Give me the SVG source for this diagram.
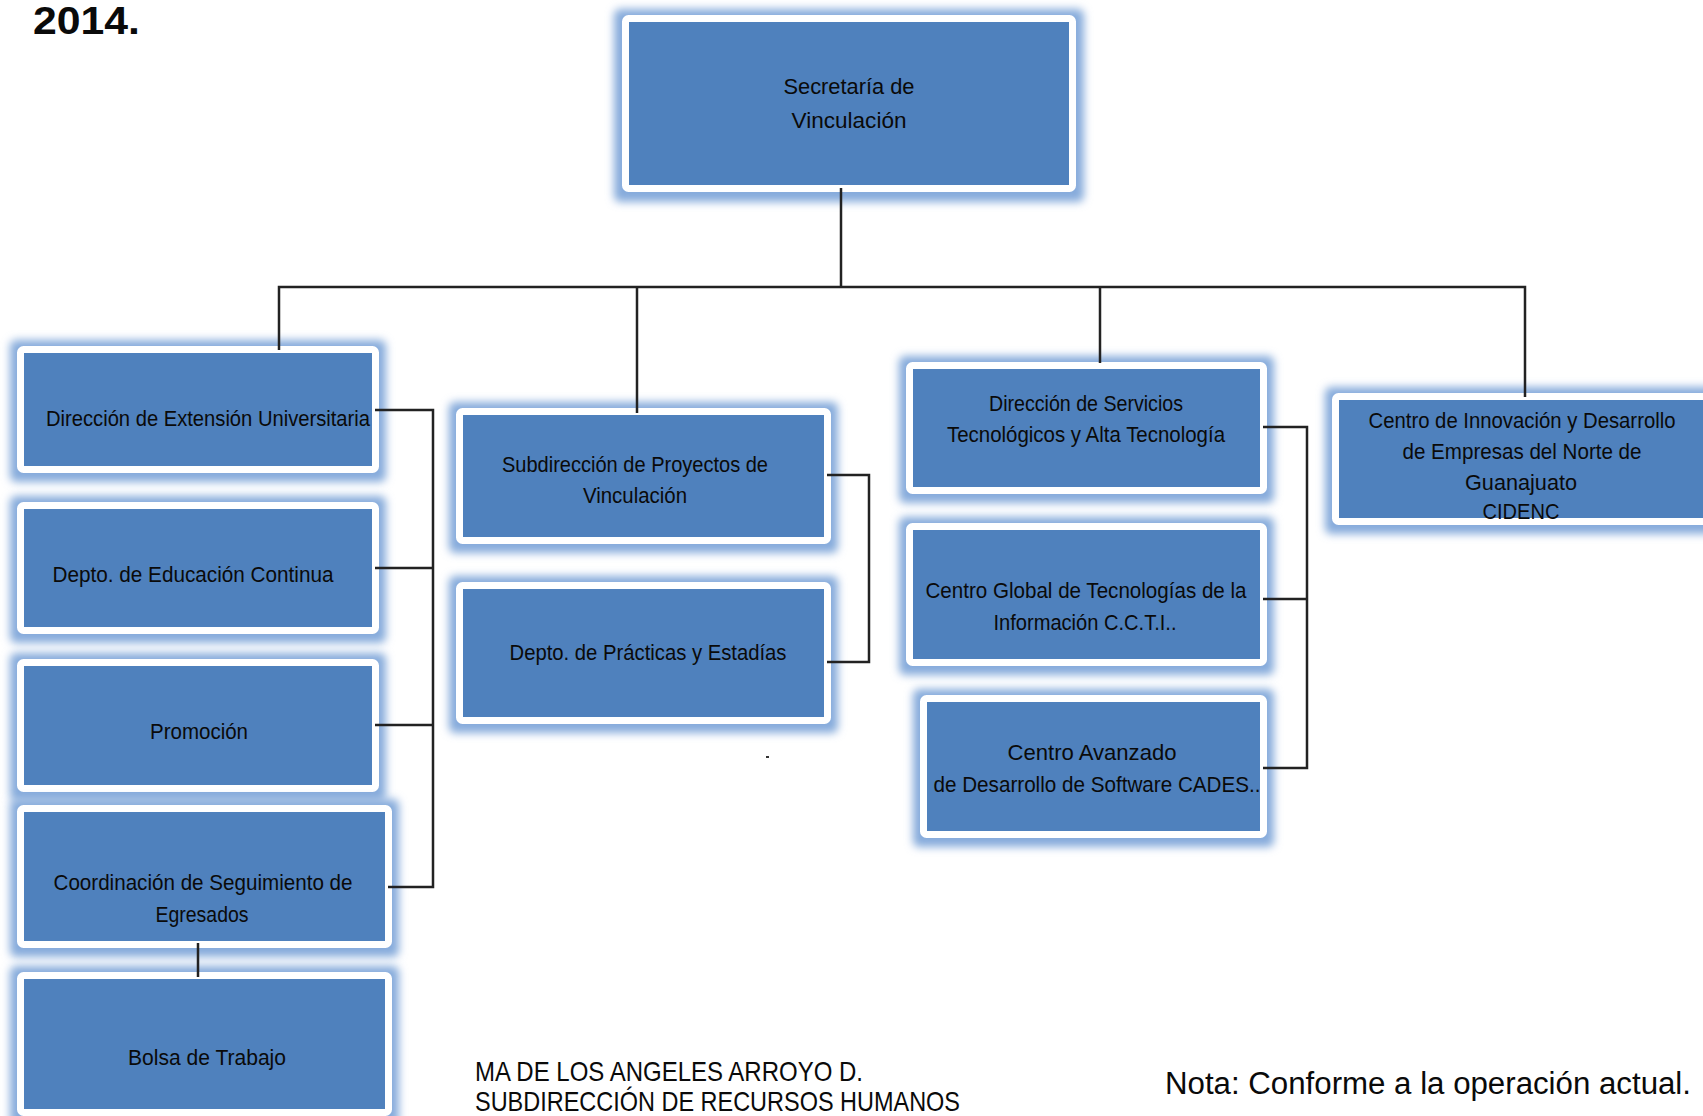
<svg xmlns="http://www.w3.org/2000/svg" width="1703" height="1116" viewBox="0 0 1703 1116">
<style>
  .frame { fill: #4F81BD; stroke: #FFFFFF; stroke-width: 7; }
  .glow { fill: #86ABDB; filter: url(#blur); }
  .t { font-family: "Liberation Sans", Arial, sans-serif; font-size: 22px; fill: #0A0A0A; text-anchor: middle; }
  .tb { font-family: "Liberation Sans", Arial, sans-serif; fill: #0A0A0A; }
  .c { fill: none; stroke: #222222; stroke-width: 2.5; }
</style>
<defs>
  <filter id="blur" x="-20%" y="-30%" width="140%" height="160%">
    <feGaussianBlur stdDeviation="4"/>
  </filter>
</defs>
<rect width="1703" height="1116" fill="#FFFFFF"/>
<text class="tb" x="33" y="34" font-size="38" font-weight="900" textLength="107" lengthAdjust="spacingAndGlyphs">2014.</text>

<g id="n-secretaria">
  <rect class="glow" x="614" y="9" width="470" height="193" rx="6"/>
  <rect class="frame" x="625.5" y="18.5" width="447" height="170" rx="3"/>
  <text class="t" font-size="25" x="849" y="94" textLength="131" lengthAdjust="spacingAndGlyphs">Secretaría de</text>
  <text class="t" font-size="25" x="849" y="128" textLength="115" lengthAdjust="spacingAndGlyphs">Vinculación</text>
</g>
<g id="n-extension">
  <rect class="glow" x="10" y="340" width="376" height="142" rx="6"/>
  <rect class="frame" x="20.5" y="349.5" width="355" height="120" rx="3"/>
  <text class="t" x="208" y="426" textLength="324" lengthAdjust="spacingAndGlyphs">Dirección de Extensión Universitaria</text>
</g>
<g id="n-educacion">
  <rect class="glow" x="10" y="496" width="376" height="147" rx="6"/>
  <rect class="frame" x="20.5" y="505.5" width="355" height="125" rx="3"/>
  <text class="t" x="193" y="582" textLength="281" lengthAdjust="spacingAndGlyphs">Depto. de Educación Continua</text>
</g>
<g id="n-promocion">
  <rect class="glow" x="10" y="653" width="376" height="148" rx="6"/>
  <rect class="frame" x="20.5" y="662.5" width="355" height="126" rx="3"/>
  <text class="t" x="199" y="739" textLength="98" lengthAdjust="spacingAndGlyphs">Promoción</text>
</g>
<g id="n-seguimiento">
  <rect class="glow" x="10" y="799" width="389" height="158" rx="6"/>
  <rect class="frame" x="20.5" y="808.5" width="368" height="136" rx="3"/>
  <text class="t" x="203" y="890" textLength="299" lengthAdjust="spacingAndGlyphs">Coordinación de Seguimiento de</text>
  <text class="t" x="202" y="922" textLength="93" lengthAdjust="spacingAndGlyphs">Egresados</text>
</g>
<g id="n-bolsa">
  <rect class="glow" x="10" y="966" width="389" height="160" rx="6"/>
  <rect class="frame" x="20.5" y="975.5" width="368" height="137" rx="3"/>
  <text class="t" x="207" y="1065" textLength="158" lengthAdjust="spacingAndGlyphs">Bolsa de Trabajo</text>
</g>
<g id="n-subdireccion">
  <rect class="glow" x="449" y="402" width="389" height="151" rx="6"/>
  <rect class="frame" x="459.5" y="411.5" width="368" height="129" rx="3"/>
  <text class="t" x="635" y="472" textLength="266" lengthAdjust="spacingAndGlyphs">Subdirección de Proyectos de</text>
  <text class="t" x="635" y="503" textLength="104" lengthAdjust="spacingAndGlyphs">Vinculación</text>
</g>
<g id="n-practicas">
  <rect class="glow" x="449" y="576" width="389" height="157" rx="6"/>
  <rect class="frame" x="459.5" y="585.5" width="368" height="135" rx="3"/>
  <text class="t" x="648" y="660" textLength="277" lengthAdjust="spacingAndGlyphs">Depto. de Prácticas y Estadías</text>
</g>
<g id="n-servicios">
  <rect class="glow" x="899" y="356" width="375" height="147" rx="6"/>
  <rect class="frame" x="909.5" y="365.5" width="354" height="125" rx="3"/>
  <text class="t" x="1086" y="411" textLength="194" lengthAdjust="spacingAndGlyphs">Dirección de Servicios</text>
  <text class="t" x="1086" y="442" textLength="278" lengthAdjust="spacingAndGlyphs">Tecnológicos y  Alta Tecnología</text>
</g>
<g id="n-ccti">
  <rect class="glow" x="899" y="517" width="375" height="158" rx="6"/>
  <rect class="frame" x="909.5" y="526.5" width="354" height="136" rx="3"/>
  <text class="t" x="1086" y="598" textLength="321" lengthAdjust="spacingAndGlyphs">Centro Global de Tecnologías de la</text>
  <text class="t" x="1085" y="630" textLength="183" lengthAdjust="spacingAndGlyphs">Información C.C.T.I..</text>
</g>
<g id="n-cades">
  <rect class="glow" x="913" y="689" width="361" height="158" rx="6"/>
  <rect class="frame" x="923.5" y="698.5" width="340" height="136" rx="3"/>
  <text class="t" x="1092" y="760" textLength="169" lengthAdjust="spacingAndGlyphs">Centro  Avanzado</text>
  <text class="t" x="1097" y="792" textLength="327" lengthAdjust="spacingAndGlyphs">de Desarrollo  de Software CADES..</text>
</g>
<g id="n-cidenc">
  <rect class="glow" x="1325" y="387" width="392" height="147" rx="6"/>
  <rect class="frame" x="1335.5" y="396.5" width="371" height="125" rx="3"/>
  <text class="t" x="1522" y="428" textLength="307" lengthAdjust="spacingAndGlyphs">Centro de Innovación y Desarrollo</text>
  <text class="t" x="1522" y="459" textLength="239" lengthAdjust="spacingAndGlyphs">de Empresas del Norte de</text>
  <text class="t" x="1521" y="490" textLength="112" lengthAdjust="spacingAndGlyphs">Guanajuato</text>
  <text class="t" x="1521" y="519" textLength="77" lengthAdjust="spacingAndGlyphs">CIDENC</text>
</g>

<g id="connectors">
  <path class="c" d="M841,188 V287"/>
  <path class="c" d="M279,350 V287 H1525 V397"/>
  <path class="c" d="M637,287 V413"/>
  <path class="c" d="M1100,287 V363"/>
  <path class="c" d="M375,410 H433 V887 H388"/>
  <path class="c" d="M375,568 H433"/>
  <path class="c" d="M375,725 H433"/>
  <path class="c" d="M198,943 V977"/>
  <path class="c" d="M827,475 H869 V662 H827"/>
  <path class="c" d="M1263,427 H1307 V768 H1263"/>
  <path class="c" d="M1263,599 H1307"/>
</g>
<rect x="766" y="756" width="3" height="2" fill="#333333"/>

<text class="tb" x="475" y="1081" font-size="28" textLength="388" lengthAdjust="spacingAndGlyphs">MA DE LOS ANGELES ARROYO D.</text>
<text class="tb" x="475" y="1111" font-size="28" textLength="485" lengthAdjust="spacingAndGlyphs">SUBDIRECCIÓN DE RECURSOS HUMANOS</text>
<text class="tb" x="1165" y="1094" font-size="31" textLength="526" lengthAdjust="spacingAndGlyphs">Nota: Conforme a la operación actual.</text>
</svg>
